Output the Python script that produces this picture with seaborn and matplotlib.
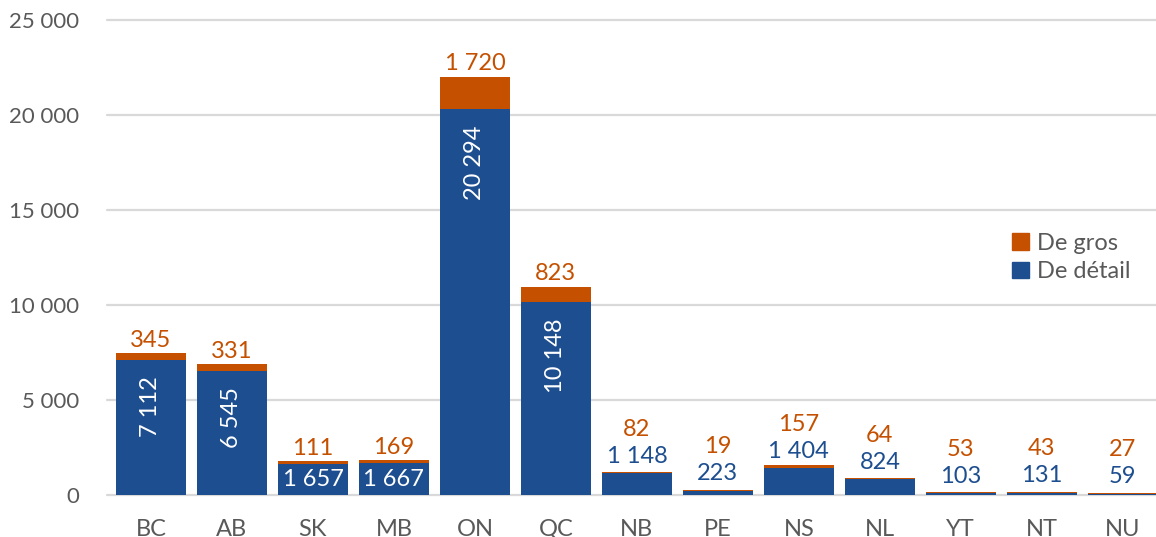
import pandas as pd
import seaborn as sns
import matplotlib.pyplot as plt
from matplotlib.patches import Patch

provinces = ['BC', 'AB', 'SK', 'MB', 'ON', 'QC', 'NB', 'PE', 'NS', 'NL', 'YT', 'NT', 'NU']
retail = [7112, 6545, 1657, 1667, 20294, 10148, 1148, 223, 1404, 824, 103, 131, 59]
wholesale = [345, 331, 111, 169, 1720, 823, 82, 19, 157, 64, 53, 43, 27]
y_ticks = [0, 5000, 10000, 15000, 20000, 25000]

BLUE = '#1D4E8F'
ORANGE = '#C45000'
GREY = '#595959'


def fmt(v):
    return f'{v:,.0f}'.replace(',', ' ')


df = pd.DataFrame({'province': provinces, 'retail': retail, 'wholesale': wholesale})
df['total'] = df['retail'] + df['wholesale']

sns.set_theme(style='white')
plt.rcParams['font.family'] = ['Lato', 'DejaVu Sans']

fig = plt.figure(figsize=(11.56, 5.37), dpi=100)
ax = fig.add_axes([107 / 1156, 1 - 495 / 537, 1 - 107 / 1156, 475 / 537])

# stacked look: totals in orange, retail drawn over them in blue
sns.barplot(data=df, x='province', y='total', color=ORANGE, width=0.864,
            saturation=1, linewidth=0, ax=ax)
sns.barplot(data=df, x='province', y='retail', color=BLUE, width=0.864,
            saturation=1, linewidth=0, ax=ax)

ax.set_xlim(-0.543, 12.41)
ax.set_ylim(0, 25000)
ax.set_yticks(y_ticks)
ax.set_yticklabels([fmt(v) for v in y_ticks])
ax.set_xlabel('')
ax.set_ylabel('')
ax.tick_params(axis='y', length=0, pad=20, labelsize=16, labelcolor=GREY)
ax.tick_params(axis='x', length=0, pad=17, labelsize=17, labelcolor=GREY)
sns.despine(ax=ax, left=True, bottom=True)
ax.yaxis.grid(True, color='#D9D9D9', linewidth=1.6)
ax.set_axisbelow(True)
for line in ax.get_ygridlines():
    line.set_clip_on(False)

# data labels (offsets in points, 1 px = 0.72 pt)
pt = 0.72
for i, (r, w) in enumerate(zip(retail, wholesale)):
    t = r + w
    if r > 5000:
        ax.annotate(fmt(r), (i, r), xytext=(0, -16 * pt), textcoords='offset points',
                    rotation=90, ha='center', va='top', color='white', fontsize=17)
        top_off = 13
        base = t
    elif r >= 1500:
        ax.annotate(fmt(r), (i, r / 2), ha='center', va='center', color='white', fontsize=17)
        top_off = 13
        base = t
    else:
        ax.annotate(fmt(r), (i, r), xytext=(0, 17 * pt), textcoords='offset points',
                    ha='center', va='center', color=BLUE, fontsize=17)
        top_off = max(13 + (t - r) / 25000 * 475, 17 + 27)
        base = r
    ax.annotate(fmt(w), (i, base), xytext=(0, top_off * pt), textcoords='offset points',
                ha='center', va='center', color=ORANGE, fontsize=17)

handles = [Patch(color=ORANGE, label='De gros'), Patch(color=BLUE, label='De détail')]
fig.legend(handles=handles, loc='upper left', bbox_to_anchor=(1012 / 1156, 1 - 233 / 537),
           frameon=False, fontsize=17, handlelength=0.7, handleheight=0.7,
           handletextpad=0.35, labelspacing=0.3, borderpad=0, borderaxespad=0,
           labelcolor=GREY)

fig.savefig('out.png', dpi=100)
